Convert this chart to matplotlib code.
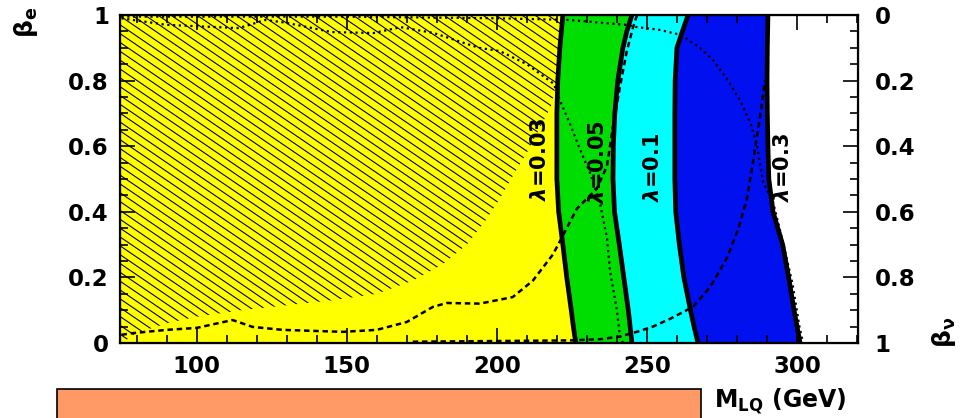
import matplotlib
matplotlib.use('Agg')
import matplotlib.pyplot as plt
import numpy as np
from matplotlib.collections import LineCollection
from matplotlib.patches import Polygon, Rectangle
from matplotlib.ticker import MultipleLocator, FuncFormatter

plt.rcParams['font.family'] = ['DejaVu Sans']
plt.rcParams['font.weight'] = 'bold'

# limites en M_LQ (GeV) en funcion de beta_e, para cada acoplamiento lambda
beta = [0, 0.05, 0.1, 0.2, 0.3, 0.4, 0.5, 0.6, 0.7, 0.8, 0.9, 0.95, 1.0]
m_003 = [226.3, 225.5, 224.8, 223.3, 222.0, 220.6, 220.0, 220.0, 220.0, 220.3, 221.0, 221.5, 222.0]
m_005 = [245.0, 244.4, 243.8, 242.3, 240.8, 239.2, 238.7, 238.8, 239.3, 240.3, 242.0, 243.3, 245.0]
m_01 = [267.0, 265.7, 264.5, 262.3, 260.8, 259.6, 259.3, 259.3, 259.3, 259.4, 260.0, 261.8, 263.7]
m_03 = [301.0, 300.0, 299.0, 297.2, 295.2, 292.0, 290.6, 290.3, 290.1, 290.0, 290.1, 290.2, 290.3]
lambdas = ['0.03', '0.05', '0.1', '0.3']

# region excluida (rayada)
hatch_m = [75, 80, 90, 100, 115, 130, 145, 160, 172, 182, 190, 196, 201, 206, 210, 214, 218, 220, 221, 222]
hatch_b = [0.0, 0.03, 0.06, 0.08, 0.10, 0.115, 0.13, 0.15, 0.19, 0.24, 0.30, 0.37, 0.44, 0.52, 0.58,
           0.65, 0.72, 0.80, 0.90, 1.0]

# curvas de otros experimentos
dash1_m = [75, 78.7, 90, 100, 112, 118.7, 128.7, 148.7, 160, 170, 178.7, 183.3, 194.3, 205.3, 212,
           218.7, 221, 226.7, 233.3, 236.7, 238.7, 241, 243.3, 245.3, 246.7]
dash1_b = [0.025, 0.03, 0.04, 0.046, 0.07, 0.049, 0.04, 0.034, 0.04, 0.064, 0.11, 0.122, 0.12, 0.14,
           0.19, 0.27, 0.31, 0.41, 0.47, 0.54, 0.66, 0.78, 0.89, 0.96, 1.0]
dash2_m = [172, 200, 225, 235, 241, 247, 252, 258, 265.3, 271, 276.7, 280.5, 283.3, 285.3, 287.5, 289.3]
dash2_b = [0.004, 0.006, 0.008, 0.012, 0.02, 0.035, 0.05, 0.075, 0.11, 0.17, 0.26, 0.35, 0.44, 0.55, 0.68, 0.80]
dot1_m = [75, 90, 114, 123, 130, 145, 159, 168, 179, 194, 201, 210, 219, 221, 224.3, 227.7, 231, 234.3,
          236.7, 237.7, 240, 241, 242]
dot1_b = [0.99, 0.97, 0.96, 0.985, 0.976, 0.948, 0.945, 0.963, 0.945, 0.90, 0.89, 0.85, 0.79, 0.74, 0.67,
          0.59, 0.52, 0.43, 0.32, 0.22, 0.10, 0.02, 0.0]
dot2_m = [75, 150, 200, 224, 243, 246.7, 254, 261, 267, 272, 277, 281, 284.5, 286.7, 288.7, 292, 295.5,
          298.5, 300.8, 302]
dot2_b = [0.995, 0.995, 0.99, 0.985, 0.97, 0.963, 0.955, 0.94, 0.905, 0.863, 0.80, 0.74, 0.67, 0.60,
          0.49, 0.43, 0.30, 0.18, 0.05, 0.0]

xmin, xmax = 74.5, 320.3

fig = plt.figure(figsize=(9.6, 4.18), dpi=100)
ax = fig.add_axes([120 / 960, 75 / 418, 738 / 960, 328 / 418])

# bandas de color
ax.fill_betweenx(beta, xmin, m_003, color='#ffff00', lw=0, zorder=1)
ax.fill_betweenx(beta, m_003, m_005, color='#00dd00', lw=0, zorder=1)
ax.fill_betweenx(beta, m_005, m_01, color='#00ffff', lw=0, zorder=1)
ax.fill_betweenx(beta, m_01, m_03, color='#0010ee', lw=0, zorder=1)

# rayado de la region excluida
pts = np.column_stack([[xmin] + hatch_m + [xmin], [0.0] + hatch_b + [1.0]])
poly = Polygon(pts, closed=True, facecolor='none', edgecolor='none')
ax.add_patch(poly)
k = 0.68 * 738 / 328
step = k * 13 / 738
c = np.arange(0, 1 + k + step, step)
segs = [[(0, ci), (1, ci - k)] for ci in c]
lc = LineCollection(segs, colors='k', linewidths=0.8, transform=ax.transAxes, zorder=2)
lc.set_clip_path(poly)
ax.add_collection(lc, autolim=False)

ax.plot(dash1_m, dash1_b, color='k', lw=1.8, ls=(0, (2.2, 1.5)), zorder=3)
ax.plot(dash2_m, dash2_b, color='k', lw=1.8, ls=(0, (2.2, 1.5)), zorder=3)
ax.plot(dot1_m, dot1_b, color='k', lw=1.6, ls=(0, (1, 1.6)), zorder=3)
ax.plot(dot2_m, dot2_b, color='k', lw=1.6, ls=(0, (1, 1.6)), zorder=3)

for m in [m_003, m_005, m_01, m_03]:
    ax.plot(m, beta, color='k', lw=3.4, zorder=4, solid_joinstyle='round')

# etiquetas de lambda
lab_pos = [(214.3, 0.56), (233.7, 0.55), (252.0, 0.535), (295.3, 0.535)]
for lam, (xm, yb) in zip(lambdas, lab_pos):
    ax.text(xm, yb, r'$\lambda$=' + lam, rotation=90, fontsize=15, ha='center', va='center', zorder=5)

fmt = FuncFormatter(lambda v, p: '%g' % round(v, 2))
ax.set_xlim(xmin, xmax)
ax.set_ylim(0, 1)
ax.xaxis.set_major_locator(MultipleLocator(50))
ax.xaxis.set_minor_locator(MultipleLocator(10))
ax.yaxis.set_major_locator(MultipleLocator(0.2))
ax.yaxis.set_minor_locator(MultipleLocator(0.05))
ax.yaxis.set_major_formatter(fmt)
ax.tick_params(which='both', direction='in', top=True, right=False, width=1.2, labelsize=16.5)
ax.tick_params(axis='x', which='major', length=11, pad=8.5)
ax.tick_params(axis='y', which='major', length=11, pad=8)
ax.tick_params(which='minor', length=5.5)
ax.set_axisbelow(False)
for s in ax.spines.values():
    s.set_linewidth(1.6)

# eje derecho: beta_nu = 1 - beta_e
ax2 = ax.twinx()
ax2.set_ylim(1, 0)
ax2.yaxis.set_major_locator(MultipleLocator(0.2))
ax2.yaxis.set_minor_locator(MultipleLocator(0.05))
ax2.yaxis.set_major_formatter(fmt)
ax2.tick_params(which='both', direction='in', width=1.2, labelsize=16.5)
ax2.tick_params(which='major', length=11, pad=12)
ax2.tick_params(which='minor', length=5.5)

fig.text(26 / 960, 1 - 22 / 418, r'$\mathrm{\beta_e}$', rotation=90, fontsize=18, ha='center', va='center')
fig.text(944 / 960, 1 - 332 / 418, r'$\mathrm{\beta_\nu}$', rotation=90, fontsize=18, ha='center', va='center')
fig.text(714 / 960, 1 - 407 / 418, r'M$_{\mathbf{LQ}}$ (GeV)', fontsize=17, ha='left', va='baseline')

fig.add_artist(Rectangle((57 / 960, -0.05), 644 / 960, 0.05 + 29 / 418, transform=fig.transFigure,
                         facecolor='#ff9966', edgecolor='k', lw=1.2))

fig.savefig('out.png', dpi=100)
